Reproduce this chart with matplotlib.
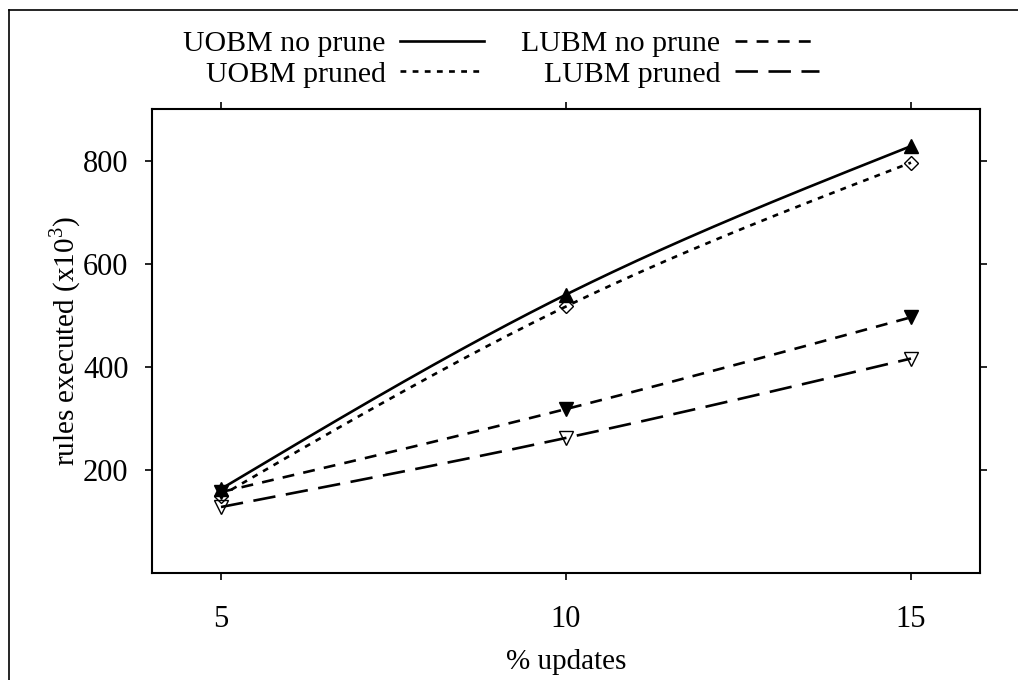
import numpy as np
import matplotlib
matplotlib.use("Agg")
from matplotlib import pyplot as plt
from matplotlib.lines import Line2D

plt.rc("font", family="Liberation Serif", size=22)
plt.rc("mathtext", fontset="custom", rm="Liberation Serif")

updates = [5, 10, 15]
uobm_noprune = [163, 540, 828]
uobm_pruned = [150, 517, 796]
lubm_noprune = [157, 318, 496]
lubm_pruned = [128, 262, 416]


def natural_spline(x, y, n=200):
    # natural cubic spline through the points (gnuplot "smooth csplines")
    x = np.asarray(x, float)
    y = np.asarray(y, float)
    k = len(x)
    h = np.diff(x)
    A = np.zeros((k, k))
    b = np.zeros(k)
    A[0, 0] = A[-1, -1] = 1
    for i in range(1, k - 1):
        A[i, i - 1] = h[i - 1]
        A[i, i] = 2 * (h[i - 1] + h[i])
        A[i, i + 1] = h[i]
        b[i] = 6 * ((y[i + 1] - y[i]) / h[i] - (y[i] - y[i - 1]) / h[i - 1])
    M = np.linalg.solve(A, b)
    xs = np.linspace(x[0], x[-1], n)
    idx = np.clip(np.searchsorted(x, xs) - 1, 0, k - 2)
    x0, x1 = x[idx], x[idx + 1]
    hh = x1 - x0
    t0, t1 = x1 - xs, xs - x0
    ys = (M[idx] * t0**3 + M[idx + 1] * t1**3) / (6 * hh) \
        + (y[idx] / hh - M[idx] * hh / 6) * t0 \
        + (y[idx + 1] / hh - M[idx + 1] * hh / 6) * t1
    return xs, ys


fig = plt.figure(figsize=(10.18, 6.8), dpi=100)
ax = fig.add_axes([152 / 1018, 1 - 573 / 680, 828 / 1018, 464 / 680])

lw = 1.9
series = [
    ("UOBM no prune", uobm_noprune, (None, None), "^", "k"),
    ("UOBM pruned", uobm_pruned, (2.2, 2.4), "D", "none"),
    ("LUBM no prune", lubm_noprune, (4.5, 3.5), "v", "k"),
    ("LUBM pruned", lubm_pruned, (8.5, 4.0), "v", "none"),
]
handles = []
for label, vals, dash, mk, fc in series:
    xs, ys = natural_spline(updates, vals)
    ln, = ax.plot(xs, ys, color="k", lw=lw)
    if dash[0] is not None:
        ln.set_dashes(dash)
    ms = 7 if mk == "D" else 10
    ax.plot(updates, vals, ls="none", marker=mk, ms=ms, mfc=fc, mec="k", mew=1.0)
    h = Line2D([], [], color="k", lw=lw)
    if dash[0] is not None:
        h.set_dashes(dash)
    handles.append((h, label))

ax.set_xlim(4, 16)
ax.set_ylim(0, 900)
ax.set_xticks(updates)
ax.set_yticks([200, 400, 600, 800])
ax.tick_params(direction="out", length=5, width=1.2, top=True, right=True,
               labelsize=22)
ax.tick_params(axis="x", pad=18)
ax.tick_params(axis="y", pad=12)
for s in ax.spines.values():
    s.set_linewidth(1.5)

ax.set_xlabel("% updates", fontsize=21, labelpad=11)
ax.set_ylabel("rules executed (x10$^3$)", fontsize=21, labelpad=0)

leg = fig.legend([h for h, _ in handles], [l for _, l in handles], ncol=2,
                 loc="center", bbox_to_anchor=(501 / 1018, 1 - 59 / 680),
                 frameon=False, markerfirst=False, fontsize=21.5,
                 handlelength=2.8, columnspacing=1.25, labelspacing=0.12,
                 handletextpad=0.5)
for t in leg.get_texts():
    t.set_ha("right")

# partial outer frame
fig.add_artist(Line2D([9 / 1018, 1], [1 - 10 / 680, 1 - 10 / 680],
                      transform=fig.transFigure, color="k", lw=1.2))
fig.add_artist(Line2D([9 / 1018, 9 / 1018], [0, 1 - 10 / 680],
                      transform=fig.transFigure, color="k", lw=1.2))

fig.savefig("out.png", dpi=100)
